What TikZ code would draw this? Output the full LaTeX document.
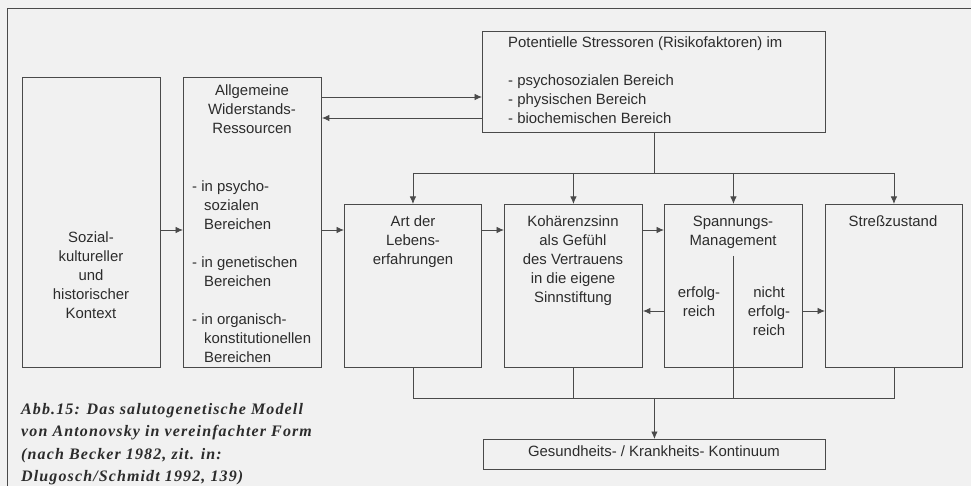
\documentclass[tikz,border=0pt]{standalone}
\usepackage{fontspec}
\setmainfont{Liberation Sans}
\newfontfamily\capfont[LetterSpace=7]{Liberation Serif}
\usetikzlibrary{arrows.meta}
\definecolor{bgcol}{HTML}{F1F1F1}
\definecolor{linecol}{HTML}{4A4A4A}
\definecolor{txtcol}{HTML}{2C2C2C}
\begin{document}
\begin{tikzpicture}[x=1pt,y=-1pt,
  box/.style={draw=linecol, line width=0.9pt, inner sep=0, anchor=north west},
  lbl/.style={inner sep=0, text=txtcol, font=\fontsize{14.9}{19}\selectfont},
  conn/.style={draw=linecol, line width=0.9pt},
  arr/.style={conn, -{Latex[length=7.5pt,width=6.5pt]}},
  captext/.style={inner sep=0, text=txtcol, align=left, font=\capfont\bfseries\itshape\fontsize{16}{22.4}\selectfont}
]
\useasboundingbox (0,0) rectangle (971,486);
\fill[bgcol] (0,0) rectangle (971,486);
\draw[linecol, line width=0.9pt] (7,486) -- (7,8) -- (971,8);

% boxes
\node[box, minimum width=138pt, minimum height=290pt] (soz) at (22,77) {};
\node[box, minimum width=138pt, minimum height=290pt] (wid) at (183,77) {};
\node[box, minimum width=343pt, minimum height=101pt] (str) at (482,31) {};
\node[box, minimum width=137pt, minimum height=163pt] (art) at (344,204) {};
\node[box, minimum width=138pt, minimum height=163pt] (koh) at (504,204) {};
\node[box, minimum width=138pt, minimum height=163pt] (spa) at (664,204) {};
\node[box, minimum width=137pt, minimum height=163pt] (stz) at (825,204) {};
\node[box, minimum width=342pt, minimum height=30pt] (ges) at (483,439) {};

% texts
\node[lbl, align=center, anchor=north] (tsoz) at (91,232) {Sozial-\\kultureller\\und\\historischer\\Kontext};
\node[lbl, align=center, anchor=north] (twid) at (252,85) {Allgemeine\\Widerstands-\\Ressourcen};
\node[lbl, align=left, anchor=north west] (twidl) at (192,181) {- in psycho-\\\hspace*{12pt}sozialen\\\hspace*{12pt}Bereichen\\[19pt]- in genetischen\\\hspace*{12pt}Bereichen\\[19pt]- in organisch-\\\hspace*{12pt}konstitutionellen\\\hspace*{12pt}Bereichen};
\node[lbl, align=left, anchor=north west] (tstr) at (508,37) {Potentielle Stressoren (Risikofaktoren) im\\[19pt]- psychosozialen Bereich\\- physischen Bereich\\- biochemischen Bereich};
\node[lbl, align=center, anchor=north] (tart) at (413,216) {Art der\\Lebens-\\erfahrungen};
\node[lbl, align=center, anchor=north] (tkoh) at (573,216) {Koh\"arenzsinn\\als Gef\"uhl\\des Vertrauens\\in die eigene\\Sinnstiftung};
\node[lbl, align=center, anchor=north] (tspa) at (733,216) {Spannungs-\\Management};
\node[lbl, align=center, anchor=north] (terf) at (699,287) {erfolg-\\reich};
\node[lbl, align=center, anchor=north] (tnerf) at (769,287) {nicht\\erfolg-\\reich};
\node[lbl, align=center, anchor=north] (tstz) at (893,216) {Stre\ss zustand};
\node[lbl, anchor=north] (tges) at (654,446) {Gesundheits- / Krankheits- Kontinuum};
\node[captext, anchor=north west] (caption) at (21,403) {Abb.15: Das salutogenetische Modell\\von Antonovsky in vereinfachter Form\\(nach Becker 1982, zit. in:\\Dlugosch/Schmidt 1992, 139)};

% helper coordinates
\coordinate (rowA) at (0,230);
\coordinate (rowB) at (0,97);
\coordinate (rowC) at (0,118);
\coordinate (rowD) at (0,311);
\coordinate (busT) at (0,173);
\coordinate (busB) at (0,398);
\coordinate (divTop) at (0,256);

% horizontal flow
\draw[arr] (soz.east |- rowA) -- (wid.west |- rowA);
\draw[arr] (wid.east |- rowA) -- (art.west |- rowA);
\draw[arr] (art.east |- rowA) -- (koh.west |- rowA);
\draw[arr] (koh.east |- rowA) -- (spa.west |- rowA);
\draw[arr] (wid.east |- rowB) -- (str.west |- rowB);
\draw[arr] (str.west |- rowC) -- (wid.east |- rowC);

% distribution from stressors
\draw[conn] (str.south) -- (str.south |- busT);
\draw[conn] (art.north |- busT) -- (stz.north |- busT);
\draw[arr] (art.north |- busT) -- (art.north);
\draw[arr] (koh.north |- busT) -- (koh.north);
\draw[arr] (spa.north |- busT) -- (spa.north);
\draw[arr] (stz.north |- busT) -- (stz.north);

% tension management
\draw[conn] (spa.center |- divTop) -- (spa.south);
\draw[arr] (spa.west |- rowD) -- (koh.east |- rowD);
\draw[arr] (spa.east |- rowD) -- (stz.west |- rowD);

% collecting bus
\draw[conn] (art.south) -- (art.south |- busB) -- (stz.south |- busB) -- (stz.south);
\draw[conn] (koh.south) -- (koh.south |- busB);
\draw[conn] (spa.south) -- (spa.south |- busB);
\draw[arr] (ges.north |- busB) -- (ges.north);
\end{tikzpicture}
\end{document}
